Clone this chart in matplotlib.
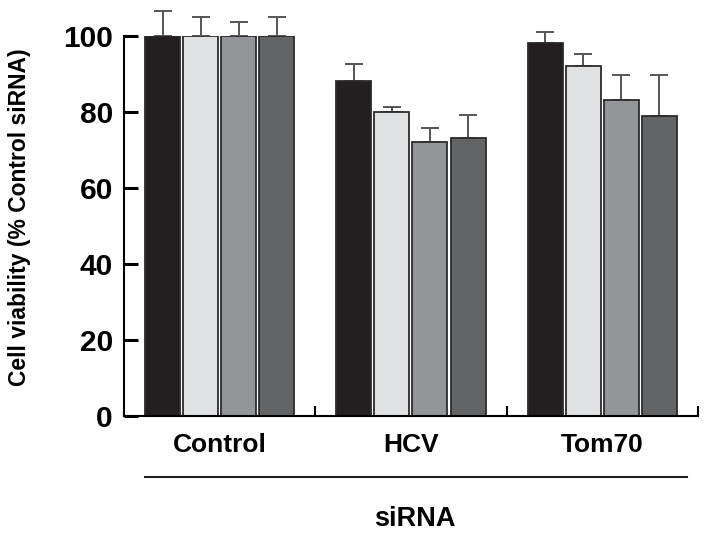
import numpy as np
import matplotlib
matplotlib.use('Agg')
import matplotlib.pyplot as plt

plt.rcParams['font.family'] = ['Liberation Sans', 'DejaVu Sans']
plt.rcParams['font.weight'] = 'bold'

# data
groups = ['Control', 'HCV', 'Tom70']
means = [[100, 88.2, 98.2],
         [100, 80.1, 92.1],
         [100, 72.0, 83.2],
         [100, 73.1, 79.0]]
errs = [[6.5, 4.3, 2.8],
        [5.0, 1.2, 3.2],
        [3.7, 3.7, 6.6],
        [5.0, 6.1, 10.8]]
colors = ['#231f20', '#e0e1e3', '#939598', '#636466']
yticks = [0, 20, 40, 60, 80, 100]

fig = plt.figure(figsize=(7.1, 5.34), dpi=100)
ax = fig.add_axes([0.1746, 0.221, 0.8084, 0.7116])

x = np.arange(len(groups)) + 0.5
step = 0.199
width = 0.183
for i in range(4):
    xi = x + (i - 1.5) * step
    ax.bar(xi, means[i], width, color=colors[i], edgecolor='#2b2b2b', linewidth=1.3, zorder=2)
    ax.errorbar(xi, means[i], yerr=[np.zeros(3), errs[i]], fmt='none',
                ecolor='#555555', elinewidth=1.4, capsize=6.8, capthick=1.4,
                clip_on=False, zorder=1)

ax.set_xlim(0, 3)
ax.set_ylim(0, 100)
ax.spines['top'].set_visible(False)
ax.spines['right'].set_visible(False)
ax.spines['left'].set_linewidth(1.5)
ax.spines['bottom'].set_linewidth(1.5)

ax.set_yticks(yticks)
ax.tick_params(axis='y', direction='in', length=10, width=2.2, labelsize=21.5, pad=8)
ax.set_xticks([1, 2, 3])
ax.set_xticklabels([])
ax.tick_params(axis='x', which='major', direction='in', length=7, width=1.5)
ax.set_xticks(x, minor=True)
ax.set_xticklabels(groups, minor=True)
ax.tick_params(axis='x', which='minor', length=0, labelsize=19, pad=12)

ax.set_ylabel('Cell viability (% Control siRNA)', fontsize=16.5, fontweight='bold')
ax.yaxis.set_label_coords(-0.162, 0.524)

ax.plot([0.0366, 0.981], [-0.161, -0.161], color='#231f20', linewidth=1.5,
        transform=ax.transAxes, clip_on=False)
ax.text(0.507, -0.272, 'siRNA', transform=ax.transAxes, ha='center', va='center',
        fontsize=19.5, fontweight='bold')

fig.savefig('out.png', dpi=100)
